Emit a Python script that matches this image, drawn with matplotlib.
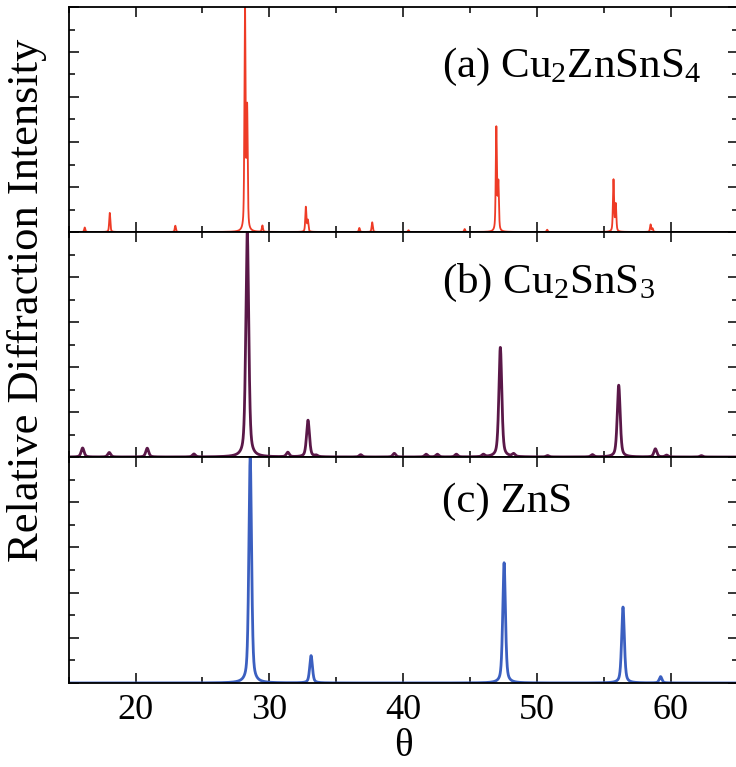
import numpy as np
import matplotlib
matplotlib.use('Agg')
import matplotlib.pyplot as plt
from matplotlib.ticker import MultipleLocator

plt.rcParams['font.family'] = ['Liberation Serif', 'DejaVu Serif']
plt.rcParams['mathtext.fontset'] = 'custom'
plt.rcParams['mathtext.rm'] = 'Liberation Serif'
plt.rcParams['mathtext.it'] = 'Liberation Serif'

# peak positions (theta), relative heights, widths (FWHM)
czts_pos = [16.2, 18.07, 22.97, 28.18, 28.34, 29.48, 32.73, 32.88, 36.73, 37.69, 40.4,
            44.6, 46.97, 47.12, 50.77, 55.73, 55.9, 58.5, 58.65]
czts_int = [0.02, 0.085, 0.028, 1.0, 0.53, 0.028, 0.11, 0.05, 0.018, 0.043, 0.008,
            0.013, 0.46, 0.21, 0.01, 0.23, 0.12, 0.033, 0.015]
czts_fwhm = 0.1

cts_pos = [16.04, 18.03, 20.87, 24.36, 28.35, 31.38, 32.89, 33.5, 36.83, 39.34, 41.72,
           42.56, 43.98, 46.0, 47.27, 48.26, 50.8, 54.15, 56.12, 58.86, 59.7, 62.3]
cts_int = [0.04, 0.02, 0.039, 0.013, 1.0, 0.02, 0.163, 0.006, 0.01, 0.016, 0.012,
           0.012, 0.012, 0.01, 0.487, 0.012, 0.006, 0.01, 0.319, 0.036, 0.008, 0.006]
cts_fwhm = 0.26

zns_pos = [28.57, 33.12, 47.55, 56.44, 59.25]
zns_int = [1.0, 0.121, 0.532, 0.336, 0.028]
zns_fwhm = 0.24

labels = [r'(a) Cu$_2$ZnSnS$_4$', r'(b) Cu$_2$SnS$_3$', '(c) ZnS']
colors = ['#ee3b26', '#5a1848', '#3b5fc0']
label_y = [0.69, 0.73, 0.755]


def profile(theta, pos, inten, fwhm):
    # pseudo-Voigt line shape for each listed peak
    y = np.zeros_like(theta)
    g = fwhm / 2.0
    for p, h in zip(pos, inten):
        lor = g**2 / ((theta - p)**2 + g**2)
        gau = np.exp(-np.log(2) * ((theta - p) / g)**2)
        y += h * (0.5 * lor + 0.5 * gau)
    return y


theta = np.linspace(15, 65, 8001)
patterns = [profile(theta, czts_pos, czts_int, czts_fwhm),
            profile(theta, cts_pos, cts_int, cts_fwhm),
            profile(theta, zns_pos, zns_int, zns_fwhm)]

fig = plt.figure(figsize=(7.36, 7.67), dpi=100)
left, right = 68.7 / 736, 737.5 / 736
tops = [1 - 7 / 767, 1 - 232 / 767, 1 - 457 / 767]
bots = [1 - 232 / 767, 1 - 457 / 767, 1 - 683 / 767]
lws = [1.3, 2.0, 2.0]

axes = []
for i in range(3):
    ax = fig.add_axes([left, bots[i], right - left, tops[i] - bots[i]])
    ax.plot(theta, patterns[i], color=colors[i], lw=lws[i])
    ax.set_xlim(15, 65)
    ax.set_ylim(0, 1.0)
    ax.xaxis.set_major_locator(MultipleLocator(10))
    ax.xaxis.set_minor_locator(MultipleLocator(5))
    ax.yaxis.set_major_locator(MultipleLocator(0.2))
    ax.yaxis.set_minor_locator(MultipleLocator(0.1))
    ax.tick_params(which='both', direction='in', top=True, right=True, width=1.1)
    ax.tick_params(which='major', length=7)
    ax.tick_params(which='minor', length=4.5)
    ax.set_yticklabels([])
    for s in ax.spines.values():
        s.set_linewidth(1.3)
    ax.text(0.558, label_y[i], labels[i], transform=ax.transAxes, fontsize=31,
            ha='left', va='baseline')
    if i < 2:
        ax.set_xticklabels([])
    axes.append(ax)

axes[2].tick_params(axis='x', labelsize=26, pad=8)
axes[2].set_xlabel('θ', fontsize=28, labelpad=1)
fig.text(0.037, 1 - 300 / 767, 'Relative Diffraction Intensity', rotation=90,
         fontsize=32, ha='center', va='center')

fig.savefig('out.png', dpi=100)
